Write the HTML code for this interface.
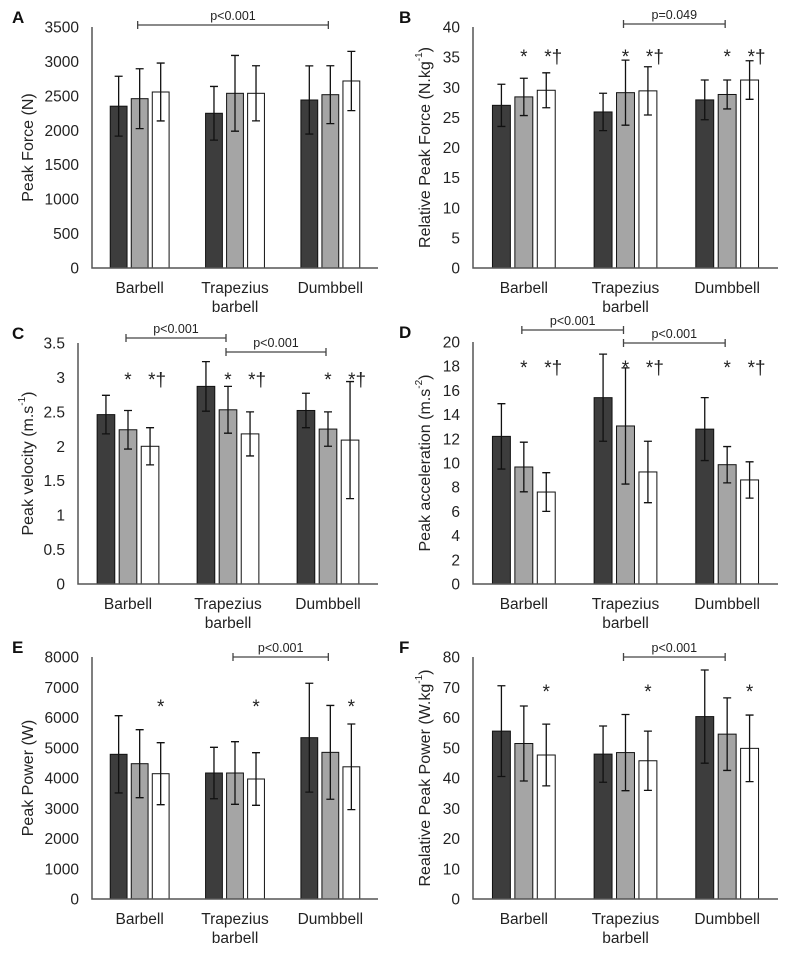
<!DOCTYPE html>
<html><head><meta charset="utf-8">
<style>
html,body{margin:0;padding:0;background:#fff;}
svg{display:block;font-family:"Liberation Sans",Arial,sans-serif;}
</style></head>
<body>
<svg id="fig" width="793" height="956" viewBox="0 0 793 956" xmlns="http://www.w3.org/2000/svg"></svg>
<script>
const categories = ["Barbell", "Trapezius|barbell", "Dumbbell"];
// A: Peak Force
const aDark = [2350, 2247, 2440];
const aGrey = [2459, 2537, 2517];
const aWhite = [2556, 2537, 2716];
const aDarkErr = [435, 390, 495];
const aGreyErr = [435, 550, 420];
const aWhiteErr = [420, 400, 430];
const aTicks = [0, 500, 1000, 1500, 2000, 2500, 3000, 3500];
// B: Relative Peak Force
const bDark = [27.0, 25.9, 27.9];
const bGrey = [28.4, 29.1, 28.8];
const bWhite = [29.5, 29.4, 31.2];
const bDarkErr = [3.5, 3.1, 3.3];
const bGreyErr = [3.1, 5.4, 2.4];
const bWhiteErr = [2.9, 4.0, 3.2];
const bTicks = [0, 5, 10, 15, 20, 25, 30, 35, 40];
// C: Peak velocity
const cDark = [2.46, 2.87, 2.52];
const cGrey = [2.24, 2.53, 2.25];
const cWhite = [2.0, 2.18, 2.09];
const cDarkErr = [0.28, 0.36, 0.25];
const cGreyErr = [0.28, 0.34, 0.25];
const cWhiteErr = [0.27, 0.32, 0.85];
const cTicks = [0, 0.5, 1, 1.5, 2, 2.5, 3, 3.5];
// D: Peak acceleration
const dDark = [12.2, 15.4, 12.8];
const dGrey = [9.67, 13.06, 9.86];
const dWhite = [7.6, 9.26, 8.6];
const dDarkErr = [2.7, 3.6, 2.6];
const dGreyErr = [2.05, 4.8, 1.5];
const dWhiteErr = [1.6, 2.54, 1.5];
const dTicks = [0, 2, 4, 6, 8, 10, 12, 14, 16, 18, 20];
// E: Peak Power
const eDark = [4783, 4165, 5333];
const eGrey = [4473, 4165, 4848];
const eWhite = [4142, 3967, 4370];
const eDarkErr = [1277, 850, 1800];
const eGreyErr = [1124, 1035, 1550];
const eWhiteErr = [1025, 870, 1415];
const eTicks = [0, 1000, 2000, 3000, 4000, 5000, 6000, 7000, 8000];
// F: Relative Peak Power
const fDark = [55.5, 47.9, 60.3];
const fGrey = [51.4, 48.4, 54.5];
const fWhite = [47.6, 45.7, 49.8];
const fDarkErr = [15, 9.3, 15.4];
const fGreyErr = [12.4, 12.6, 12];
const fWhiteErr = [10.2, 9.8, 11];
const fTicks = [0, 10, 20, 30, 40, 50, 60, 70, 80];

const NS = "http://www.w3.org/2000/svg";
const svg = document.getElementById("fig");
function mk(tag, attrs, parent, text) {
  const e = document.createElementNS(NS, tag);
  for (const k in attrs) e.setAttribute(k, attrs[k]);
  if (text !== undefined) e.textContent = text;
  (parent || svg).appendChild(e);
  return e;
}

const panels = [
  {id:"a", letter:"A", lx:12, tx:28, x0:92, x1:378, yTop:27, y0:268, max:3500, ticks:aTicks, title:"Peak Force  (N)", sup:null,
   series:[aDark,aGrey,aWhite], errs:[aDarkErr,aGreyErr,aWhiteErr], sigs:[[0,2,25,"p<0.001"]], marks:null, markY:0},
  {id:"b", letter:"B", lx:399, tx:425, x0:473, x1:778, yTop:27, y0:268, max:40, ticks:bTicks, title:"Relative Peak Force (N.kg", sup:"-1",
   series:[bDark,bGrey,bWhite], errs:[bDarkErr,bGreyErr,bWhiteErr], sigs:[[1,2,24,"p=0.049"]], marks:"full", markY:51},
  {id:"c", letter:"C", lx:12, tx:28, x0:78, x1:378, yTop:343, y0:584, max:3.5, ticks:cTicks, title:"Peak velocity (m.s", sup:"-1",
   series:[cDark,cGrey,cWhite], errs:[cDarkErr,cGreyErr,cWhiteErr], sigs:[[0,1,338,"p<0.001"],[1,2,352,"p<0.001"]], marks:"full", markY:374},
  {id:"d", letter:"D", lx:399, tx:425, x0:473, x1:778, yTop:342, y0:584, max:20, ticks:dTicks, title:"Peak acceleration (m.s", sup:"-2",
   series:[dDark,dGrey,dWhite], errs:[dDarkErr,dGreyErr,dWhiteErr], sigs:[[0,1,330,"p<0.001"],[1,2,343,"p<0.001"]], marks:"full", markY:362},
  {id:"e", letter:"E", lx:12, tx:28, x0:92, x1:378, yTop:657, y0:899, max:8000, ticks:eTicks, title:"Peak Power (W)", sup:null,
   series:[eDark,eGrey,eWhite], errs:[eDarkErr,eGreyErr,eWhiteErr], sigs:[[1,2,657,"p<0.001"]], marks:"white", markY:701},
  {id:"f", letter:"F", lx:399, tx:425, x0:473, x1:778, yTop:657, y0:899, max:80, ticks:fTicks, title:"Realative Peak Power (W.kg", sup:"-1",
   series:[fDark,fGrey,fWhite], errs:[fDarkErr,fGreyErr,fWhiteErr], sigs:[[1,2,657,"p<0.001"]], marks:"white", markY:686}
];
const fills = ["#3d3d3d", "#a5a5a5", "#ffffff"];
const seriesNames = ["dark", "grey", "white"];

panels.forEach(p => {
  const g = mk("g", {});
  
  
  const yS = v => p.y0 - (v / p.max) * (p.y0 - p.yTop);
  const pw = p.x1 - p.x0;
  const xC = i => p.x0 + pw * (i + 0.5) / categories.length;
  const step = pw * 0.0735, bw = step * 0.8;

  const lt = mk("text", {x: p.lx, y: p.yTop - 4, "font-size": 17, "font-weight": "bold", fill: "#111"}, g, p.letter);
  
  

  p.ticks.forEach(t => {
    const tl = mk("text", {x: p.x0 - 13, y: yS(t) + 5.5, "font-size": 15.5, "text-anchor": "end", fill: "#222"}, g, String(t));
    
    
  });
  const cx = p.tx, cy = (p.yTop + p.y0) / 2;
  const yt = mk("text", {x: cx, y: cy, "font-size": 16, "text-anchor": "middle", "dominant-baseline": "central", fill: "#222", transform: `rotate(-90 ${cx} ${cy})`}, g);
  
  
  mk("tspan", {}, yt, p.title);
  if (p.sup) { mk("tspan", {"font-size": 10, dy: -6}, yt, p.sup); mk("tspan", {dy: 6}, yt, ")"); }

  categories.forEach((c, i) => {
    for (let s = 0; s < 3; s++) {
      const v = p.series[s][i], e = p.errs[s][i];
      const bx = xC(i) + (s - 1) * step;
      const r = mk("rect", {x: bx - bw / 2, y: yS(v), width: bw, height: p.y0 - yS(v), fill: fills[s], stroke: "#111", "stroke-width": 1}, g);
      
      
      const eb = mk("path", {d: `M${bx},${yS(v + e)}V${yS(v - e)}M${bx - 4},${yS(v + e)}H${bx + 4}M${bx - 4},${yS(v - e)}H${bx + 4}`, stroke: "#111", "stroke-width": 1.3, fill: "none"}, g);
      
      
    }
    const parts = c.split("|");
    parts.forEach((pt, k) => {
      const cl = mk("text", {x: xC(i), y: p.y0 + 25 + k * 19, "font-size": 15.5, "text-anchor": "middle", fill: "#222"}, g, pt);
      
      
    });
    if (p.marks) {
      if (p.marks === "full") {
        const m1 = mk("text", {x: xC(i), y: p.markY + 12, "font-size": 19, "text-anchor": "middle", fill: "#222"}, g, "*");
        
        
        const m2 = mk("text", {x: xC(i) + step + 7, y: p.markY + 12, "font-size": 19, "text-anchor": "middle", fill: "#222"}, g, "*†");
        
        
      } else {
        const m3 = mk("text", {x: xC(i) + step, y: p.markY + 12, "font-size": 19, "text-anchor": "middle", fill: "#222"}, g, "*");
        
        
      }
    }
  });

  const ax = mk("path", {d: `M${p.x0},${p.yTop}V${p.y0}H${p.x1}`, stroke: "#555", "stroke-width": 1.5, fill: "none"}, g);
  
  

  p.sigs.forEach(sg => {
    const xa = xC(sg[0]) - 2, xb = xC(sg[1]) - 2, y = sg[2];
    const br = mk("path", {d: `M${xa},${y}H${xb}M${xa},${y - 4}V${y + 4}M${xb},${y - 4}V${y + 4}`, stroke: "#444", "stroke-width": 1.3, fill: "none"}, g);
    
    
    const st = mk("text", {x: (xa + xb) / 2, y: y - 5, "font-size": 12.5, "text-anchor": "middle", fill: "#222"}, g, sg[3]);
    
    
  });
});
</script>
</body></html>
